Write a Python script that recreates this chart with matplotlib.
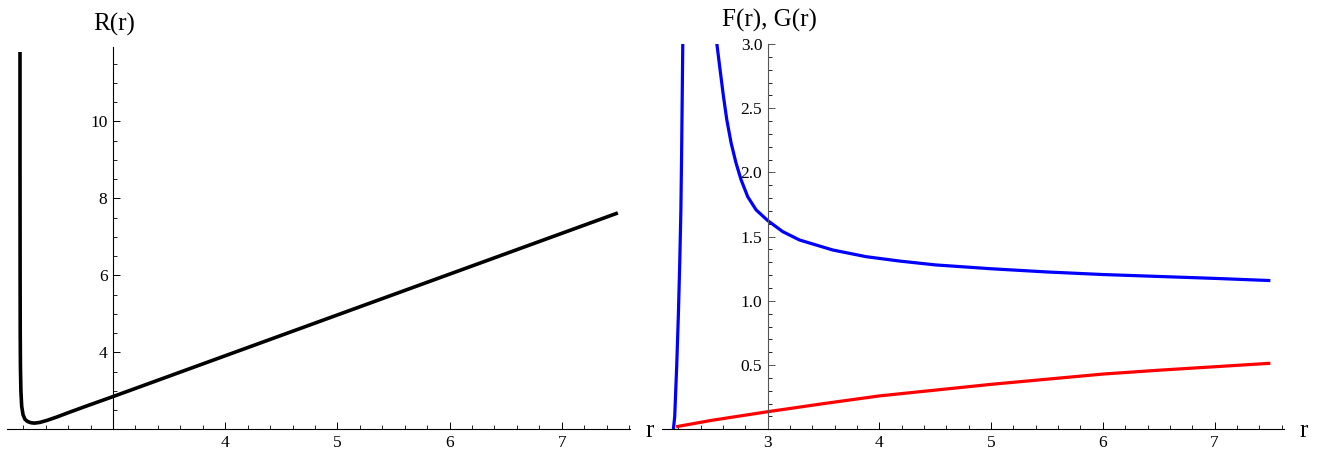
import matplotlib
matplotlib.use("Agg")
import matplotlib.pyplot as plt
from matplotlib.ticker import FixedLocator, FixedFormatter

plt.rcParams["font.family"] = ["Liberation Serif", "DejaVu Serif"]

# R(r)
r_R = [2.171, 2.171, 2.172, 2.173, 2.175, 2.179, 2.186, 2.198, 2.215, 2.24, 2.27,
       2.30, 2.35, 2.41, 2.5, 2.6, 2.75, 3.0, 4.0, 5.0, 6.0, 7.0, 7.5]
R_vals = [11.8, 9.0, 6.0, 4.5, 3.6, 3.0, 2.6, 2.38, 2.26, 2.2, 2.17,
          2.16, 2.18, 2.23, 2.32, 2.43, 2.59, 2.85, 3.91, 4.97, 6.03, 7.09, 7.62]

# G(r): two blue branches, F(r): red
r_G1 = [2.155, 2.167, 2.176, 2.185, 2.2, 2.212, 2.222, 2.228, 2.233, 2.239, 2.242]
G1_vals = [0.0, 0.1, 0.3, 0.5, 0.9, 1.3, 1.7, 2.1, 2.5, 3.0, 3.3]

r_G2 = [2.535, 2.543, 2.573, 2.603, 2.633, 2.672, 2.716, 2.761, 2.821, 2.896,
        3.0, 3.134, 3.284, 3.582, 3.881, 4.179, 4.5, 5.0, 5.5, 6.0, 6.5, 7.0, 7.5]
G2_vals = [3.1, 3.01, 2.80, 2.594, 2.411, 2.229, 2.073, 1.943, 1.81, 1.708,
           1.625, 1.539, 1.474, 1.396, 1.344, 1.31, 1.28, 1.25, 1.225, 1.205,
           1.19, 1.175, 1.158]

r_F = [2.18, 2.5, 3.0, 3.5, 4.0, 4.5, 5.0, 5.5, 6.0, 6.5, 7.0, 7.5]
F_vals = [0.02, 0.07, 0.137, 0.20, 0.26, 0.305, 0.35, 0.39, 0.43, 0.46, 0.487, 0.514]

x_major = [3, 4, 5, 6, 7]
x_minor = [2.2, 2.4, 2.6, 2.8, 3.2, 3.4, 3.6, 3.8, 4.2, 4.4, 4.6, 4.8,
           5.2, 5.4, 5.6, 5.8, 6.2, 6.4, 6.6, 6.8, 7.2, 7.4, 7.6]
left_x_labels = ["", "4", "5", "6", "7"]
right_x_labels = ["3", "4", "5", "6", "7"]

left_y_major = [2, 4, 6, 8, 10]
left_y_labels = ["", "4", "6", "8", "10"]
left_y_minor = [2.5, 3, 3.5, 4.5, 5, 5.5, 6.5, 7, 7.5, 8.5, 9, 9.5,
                10.5, 11, 11.5]

right_y_major = [0.5, 1.0, 1.5, 2.0, 2.5, 3.0]
right_y_labels = ["0.5", "1.0", "1.5", "2.0", "2.5", "3.0"]
right_y_minor = [0.1, 0.2, 0.3, 0.4, 0.6, 0.7, 0.8, 0.9, 1.1, 1.2, 1.3, 1.4,
                 1.6, 1.7, 1.8, 1.9, 2.1, 2.2, 2.3, 2.4, 2.6, 2.7, 2.8, 2.9]


def style_axes(ax, x0, y0, yaxis_color):
    for side in ["top", "right"]:
        ax.spines[side].set_visible(False)
    ax.spines["left"].set_position(("data", x0))
    ax.spines["bottom"].set_position(("data", y0))
    ax.spines["left"].set_color(yaxis_color)
    ax.spines["left"].set_linewidth(0.8)
    ax.spines["bottom"].set_linewidth(0.8)
    ax.tick_params(axis="both", which="both", direction="in", labelsize=12.5)
    ax.tick_params(axis="both", which="major", length=5, width=0.7)
    ax.tick_params(axis="both", which="minor", length=3, width=0.6)
    ax.tick_params(axis="x", pad=4)
    ax.tick_params(axis="y", pad=4, colors=yaxis_color, labelcolor="black")


fig = plt.figure(figsize=(13.18, 4.55), dpi=100)

# Left panel: R(r)
ax1 = fig.add_axes([0.0053, 0.0565, 0.4727, 0.8402])
ax1.plot(r_R, R_vals, color="black", lw=2.6, solid_capstyle="butt")
ax1.set_xlim(2.055, 7.608)
ax1.set_ylim(2.0, 11.93)
style_axes(ax1, 3, 2, "black")
ax1.xaxis.set_major_locator(FixedLocator(x_major))
ax1.xaxis.set_major_formatter(FixedFormatter(left_x_labels))
ax1.xaxis.set_minor_locator(FixedLocator(x_minor))
ax1.yaxis.set_major_locator(FixedLocator(left_y_major))
ax1.yaxis.set_major_formatter(FixedFormatter(left_y_labels))
ax1.yaxis.set_minor_locator(FixedLocator(left_y_minor))

# Right panel: F(r), G(r)
ax2 = fig.add_axes([0.5021, 0.0565, 0.4721, 0.8468])
ax2.plot(r_G1, G1_vals, color="#0000ff", lw=2.3, solid_capstyle="butt")
ax2.plot(r_G2, G2_vals, color="#0000ff", lw=2.3, solid_capstyle="butt")
ax2.plot(r_F, F_vals, color="#ff0000", lw=2.3, solid_capstyle="butt")
ax2.set_xlim(2.051, 7.622)
ax2.set_ylim(0.0, 3.0)
style_axes(ax2, 3, 0, "#555555")
ax2.xaxis.set_major_locator(FixedLocator(x_major))
ax2.xaxis.set_major_formatter(FixedFormatter(right_x_labels))
ax2.xaxis.set_minor_locator(FixedLocator(x_minor))
ax2.yaxis.set_major_locator(FixedLocator(right_y_major))
ax2.yaxis.set_major_formatter(FixedFormatter(right_y_labels))
ax2.yaxis.set_minor_locator(FixedLocator(right_y_minor))

# axis labels, Mathematica style
fig.text(0.0708, 0.9319, "R(r)", fontsize=18, ha="left", va="baseline")
fig.text(0.5476, 0.9414, "F(r), G(r)", fontsize=18, ha="left", va="baseline")
fig.text(0.4894, 0.039, "r", fontsize=18, ha="left", va="baseline")
fig.text(0.9858, 0.039, "r", fontsize=18, ha="left", va="baseline")

fig.savefig("out.png", dpi=100)
plt.close(fig)
